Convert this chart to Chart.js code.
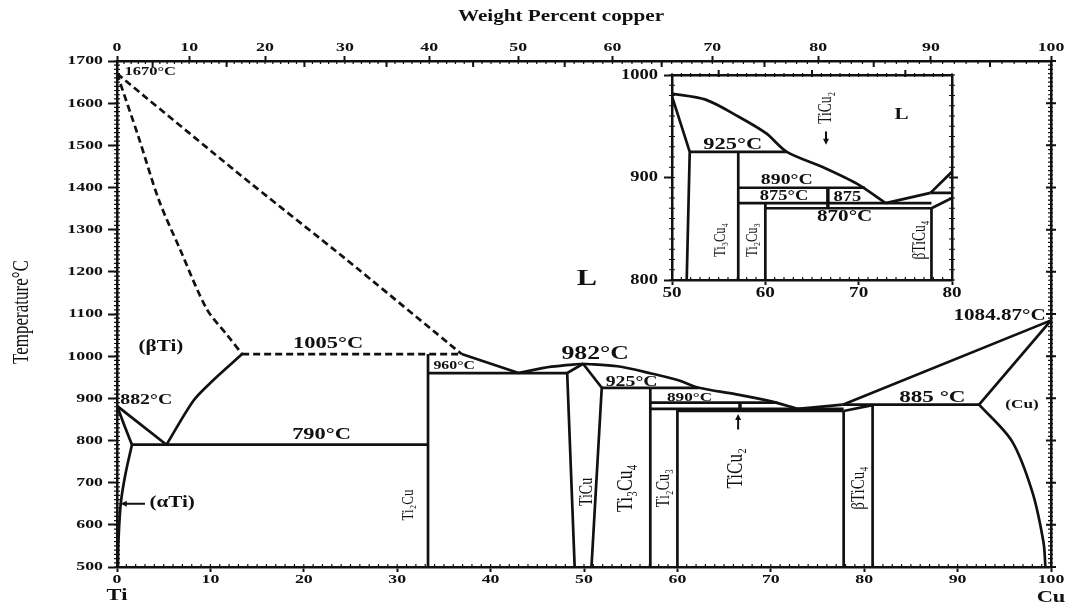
<!DOCTYPE html>
<html>
<head>
<meta charset="utf-8">
<title>Ti–Cu phase diagram</title>
<script src="https://cdn.jsdelivr.net/npm/chart.js@4.4.1/dist/chart.umd.min.js"></script>
<style>
  html, body { margin: 0; padding: 0; background: #fff; overflow: hidden; }
  #wrap { position: relative; width: 1074px; height: 606px; background: #fff; }
  #main { position: absolute; left: 0; top: 0; }
  #inset { position: absolute; left: 610px; top: 62px; }
</style>
</head>
<body>
<div id="wrap">
  <canvas id="main" width="1074" height="606"></canvas>
  <canvas id="inset" width="360" height="240"></canvas>
</div>
<script>
// ---------- Ti–Cu phase boundaries (x: atomic % Cu, y: temperature °C) ----------
const liquidusBeta      = [[0,1670],[13.3,1428],[24.4,1232],[36.9,1005]];
const solidusBeta       = [[0,1670],[2.3,1520],[4.5,1369],[6.7,1256],[9.6,1112],[11.8,1050],[13.4,1005]];
const peritectic1005    = [[13.4,1005],[36.9,1005]];
const betaSolvus        = [[13.4,1005],[10.3,943],[8.2,895],[5.3,790]];
const betaTransus       = [[0,882],[5.3,790]];
const alphaTransus      = [[0,882],[0.8,835],[1.6,790]];
const alphaSolvus       = [[1.6,790],[0.9,720],[0.4,650],[0.15,560],[0.1,500]];
const eutectoid790      = [[1.6,790],[33.3,790]];
const ti2CuPhase        = [[33.3,500],[33.3,1005]];
const liquidusTi2Cu     = [[36.9,1005],[43,960]];
const eutectic960       = [[33.3,960],[48.2,960]];
const liquidusTiCuLeft  = [[43,960],[46.5,975],[49.9,982]];
const tiCuLeft          = [[49.0,500],[48.2,960],[49.9,982]];
const tiCuRight         = [[49.9,982],[51.9,925],[50.8,500]];
const liquidusTiCuRight = [[49.9,982],[53.6,976],[57.2,959],[60.1,943],[62.3,925],[66.2,910],[69.8,894],[72.9,875]];
const eutectic925       = [[51.9,925],[62.3,925]];
const ti3Cu4Phase       = [[57.1,500],[57.1,925]];
const peritectic890     = [[57.1,890],[70.7,890]];
const eutectic875       = [[57.1,875],[77.8,875]];
const ti2Cu3Phase       = [[60,500],[60,875]];
const peritectoid870    = [[60,870],[77.8,870]];
const tiCu2Phase        = [[66.7,870],[66.7,890]];
const liquidusCuLow     = [[72.9,875],[77.7,885]];
const liquidusCu        = [[77.7,885],[100,1084.87]];
const betaTiCu4Left     = [[77.8,500],[77.8,870]];
const betaTiCu4Top      = [[77.8,870],[80.9,884]];
const eutectic885       = [[77.7,885],[92.3,885]];
const betaTiCu4Right    = [[80.9,500],[80.9,885]];
const cuSolidus         = [[92.3,885],[100,1084.87]];
const cuSolvus          = [[92.3,885],[95.8,799],[98,678],[99.2,558],[99.4,500]];

// ---------- tick labels ----------
const tempTicks        = [500,600,700,800,900,1000,1100,1200,1300,1400,1500,1600,1700];
const atomicTicks      = [0,10,20,30,40,50,60,70,80,90,100];
const weightTicks      = [0,10,20,30,40,50,60,70,80,90,100];
const insetTempTicks   = [800,900,1000];
const insetAtomicTicks = [50,60,70,80];

// ---------- which boundaries are drawn, and how ----------
const boundaries = [
  { pts: liquidusBeta, dash: true, curve: 0.2 },
  { pts: solidusBeta, dash: true, curve: 0.3 },
  { pts: peritectic1005, dash: true },
  { pts: betaSolvus, curve: 0.3 },
  { pts: betaTransus },
  { pts: alphaTransus, curve: 0.3 },
  { pts: alphaSolvus, curve: 0.3 },
  { pts: eutectoid790 },
  { pts: ti2CuPhase },
  { pts: liquidusTi2Cu },
  { pts: eutectic960 },
  { pts: liquidusTiCuLeft, curve: 0.3 },
  { pts: tiCuLeft },
  { pts: tiCuRight },
  { pts: liquidusTiCuRight, curve: 0.3 },
  { pts: eutectic925 },
  { pts: ti3Cu4Phase },
  { pts: peritectic890 },
  { pts: eutectic875 },
  { pts: ti2Cu3Phase },
  { pts: peritectoid870 },
  { pts: tiCu2Phase, width: 3.5 },
  { pts: liquidusCuLow },
  { pts: liquidusCu },
  { pts: betaTiCu4Left },
  { pts: betaTiCu4Top },
  { pts: eutectic885 },
  { pts: betaTiCu4Right },
  { pts: cuSolidus },
  { pts: cuSolvus, curve: 0.3 }
];

// weight % Cu -> atomic % Cu (top axis is in weight percent)
const M_TI = 47.867, M_CU = 63.546;
function wtToAt(w) {
  const cu = w / M_CU, ti = (100 - w) / M_TI;
  return 100 * cu / (cu + ti);
}
function steps(a, b, s) { const out = []; for (let v = a; v <= b + 1e-9; v += s) out.push(v); return out; }

const INK = '#111';
const SERIF = "'Liberation Serif','Times New Roman','DejaVu Serif',serif";
const SX = 1.32; // lettering in this figure is set wide

function makeDatasets(lineWidth) {
  return boundaries.map(b => ({
    data: b.pts.map(([x, y]) => ({ x, y })),
    showLine: true,
    borderColor: INK,
    borderWidth: b.width || lineWidth,
    borderDash: b.dash ? [7, 4] : [],
    tension: b.curve || 0,
    pointRadius: 0,
    fill: false
  }));
}

function drawText(ctx, text, px, py, o) {
  ctx.save();
  ctx.translate(px, py);
  ctx.scale(SX, 1);
  if (o.rot) ctx.rotate(o.rot * Math.PI / 180);
  ctx.font = (o.bold === false ? '' : 'bold ') + o.size + 'px ' + SERIF;
  ctx.textAlign = o.align || 'center';
  ctx.textBaseline = 'middle';
  ctx.fillStyle = INK;
  ctx.fillText(text, 0, 0);
  ctx.restore();
}

function tickRow(ctx, chart, id, values, before, after, width) {
  const s = chart.scales[id], ca = chart.chartArea;
  ctx.save();
  ctx.strokeStyle = INK;
  ctx.lineWidth = width || 1.2;
  ctx.beginPath();
  values.forEach(v => {
    const p = s.getPixelForValue(v);
    if (s.isHorizontal()) {
      const y0 = s.position === 'top' ? ca.top : ca.bottom;
      ctx.moveTo(p, y0 - before); ctx.lineTo(p, y0 + after);
    } else {
      const x0 = s.position === 'left' ? ca.left : ca.right;
      ctx.moveTo(x0 - before, p); ctx.lineTo(x0 + after, p);
    }
  });
  ctx.stroke();
  ctx.restore();
}

function arrow(ctx, x1, y1, x2, y2) {
  const a = Math.atan2(y2 - y1, x2 - x1), h = 6;
  ctx.save();
  ctx.strokeStyle = INK; ctx.fillStyle = INK; ctx.lineWidth = 2;
  ctx.beginPath(); ctx.moveTo(x1, y1); ctx.lineTo(x2 - Math.cos(a) * h * 0.8, y2 - Math.sin(a) * h * 0.8); ctx.stroke();
  ctx.beginPath();
  ctx.moveTo(x2, y2);
  ctx.lineTo(x2 - h * Math.cos(a) + 3 * Math.sin(a), y2 - h * Math.sin(a) - 3 * Math.cos(a));
  ctx.lineTo(x2 - h * Math.cos(a) - 3 * Math.sin(a), y2 - h * Math.sin(a) + 3 * Math.cos(a));
  ctx.closePath(); ctx.fill();
  ctx.restore();
}

function axis(pos, min, max, tickValues, tickLength, size) {
  return {
    type: 'linear', position: pos, min, max,
    afterBuildTicks: s => { s.ticks = tickValues.map(v => ({ value: v })); },
    ticks: { display: false },
    grid: { drawOnChartArea: false, drawTicks: true, tickLength, tickColor: INK, tickWidth: 2 },
    border: { display: true, color: INK, width: 2.5 },
    afterFit: s => { if (s.isHorizontal()) s.height = size; else s.width = size; }
  };
}

// ---------- main diagram labels (placed in data coordinates) ----------
const mainLabels = [
  { t: '1670°C', x: 0.8, y: 1674, size: 12.5, align: 'left' },
  { t: '(βTi)', x: 4.7, y: 1023, size: 16 },
  { t: '1005°C', x: 22.6, y: 1030, size: 17 },
  { t: '960°C', x: 36.1, y: 976, size: 12 },
  { t: '982°C', x: 51.2, y: 1006, size: 19.5 },
  { t: '925°C', x: 55.1, y: 938, size: 15 },
  { t: '890°C', x: 61.3, y: 902, size: 13 },
  { t: '882°C', x: 0.35, y: 895, size: 15, align: 'left' },
  { t: '790°C', x: 21.9, y: 815, size: 17 },
  { t: '(αTi)', x: 5.9, y: 651, size: 16 },
  { t: '885 °C', x: 87.3, y: 902, size: 17.5 },
  { t: '(Cu)', x: 96.9, y: 886, size: 13 },
  { t: '1084.87°C', x: 94.5, y: 1096, size: 16 },
  { t: 'L', x: 50.3, y: 1184, size: 23 },
  { t: 'Ti₂Cu', x: 31.2, y: 647, size: 13, rot: -90, bold: false },
  { t: 'TiCu', x: 50.3, y: 678, size: 14, rot: -90, bold: false },
  { t: 'Ti₃Cu₄', x: 54.5, y: 687, size: 17.5, rot: -90, bold: false },
  { t: 'Ti₂Cu₃', x: 58.6, y: 687, size: 14, rot: -90, bold: false },
  { t: 'TiCu₂', x: 66.3, y: 734, size: 17, rot: -90, bold: false },
  { t: 'βTiCu₄', x: 79.4, y: 687, size: 15, rot: -90, bold: false }
];

const insetLabels = [
  { t: '925°C', x: 56.5, y: 932, size: 17 },
  { t: '890°C', x: 62.3, y: 897.6, size: 15 },
  { t: '875°C', x: 62.0, y: 882, size: 14 },
  { t: '875', x: 68.8, y: 881, size: 14 },
  { t: '870°C', x: 68.5, y: 861.5, size: 16 },
  { t: 'L', x: 74.6, y: 961, size: 16 },
  { t: 'TiCu₂', x: 66.5, y: 968, size: 13.5, rot: -90, bold: false },
  { t: 'Ti₃Cu₄', x: 55.2, y: 839, size: 12.5, rot: -90, bold: false },
  { t: 'Ti₂Cu₃', x: 58.6, y: 839, size: 12.5, rot: -90, bold: false },
  { t: 'βTiCu₄', x: 76.6, y: 839, size: 13.5, rot: -90, bold: false }
];

const mainDecor = {
  id: 'mainDecor',
  afterDraw(chart) {
    const { ctx, scales: { x, x2, y } } = chart;
    // fine graduations
    tickRow(ctx, chart, 'y', steps(500, 1700, 10), 3, 3);
    tickRow(ctx, chart, 'y2', steps(500, 1700, 10), 3, 2);
    tickRow(ctx, chart, 'y2', tempTicks, 5, 5, 2);
    tickRow(ctx, chart, 'x', steps(0, 100, 1), 3, 1);
    tickRow(ctx, chart, 'x2', steps(0, 100, 1).map(wtToAt), 1, 3);
    tickRow(ctx, chart, 'x2', steps(5, 95, 10).map(wtToAt), 1, 6, 2);
    // tick labels
    tempTicks.forEach(t => drawText(ctx, String(t), 103, y.getPixelForValue(t), { size: 13.5, align: 'right' }));
    atomicTicks.forEach(v => drawText(ctx, String(v), x.getPixelForValue(v), 580, { size: 13.5 }));
    weightTicks.forEach(w => drawText(ctx, String(w), x2.getPixelForValue(wtToAt(w)), 47.5, { size: 13.5 }));
    // axis titles and end members
    drawText(ctx, 'Weight Percent copper', 561, 17, { size: 16 });
    drawText(ctx, 'Temperature°C', 22, 312, { size: 17, rot: -90, bold: false });
    drawText(ctx, 'Ti', x.getPixelForValue(0), 596, { size: 17 });
    drawText(ctx, 'Cu', x.getPixelForValue(100), 598, { size: 17 });
    // phase labels
    mainLabels.forEach(l => drawText(ctx, l.t, x.getPixelForValue(l.x), y.getPixelForValue(l.y), l));
    // pointers
    arrow(ctx, x.getPixelForValue(3.0), y.getPixelForValue(650), x.getPixelForValue(0.4), y.getPixelForValue(650));
    arrow(ctx, x.getPixelForValue(66.5), y.getPixelForValue(826), x.getPixelForValue(66.5), y.getPixelForValue(863));
  }
};

const insetDecor = {
  id: 'insetDecor',
  afterDraw(chart) {
    const { ctx, scales: { x, y } } = chart;
    tickRow(ctx, chart, 'y', steps(800, 1000, 10), 3, 3);
    tickRow(ctx, chart, 'y2', steps(800, 1000, 10), 3, 3);
    tickRow(ctx, chart, 'y2', [900], 3, 6, 2);
    tickRow(ctx, chart, 'x', steps(50, 80, 1), 3, 1);
    tickRow(ctx, chart, 'x2', steps(50, 80, 1), 2, 2);
    tickRow(ctx, chart, 'x2', steps(55, 75, 10), 5, 2, 2);
    insetTempTicks.forEach(t => drawText(ctx, String(t), 48, y.getPixelForValue(t), { size: 14, align: 'right' }));
    insetAtomicTicks.forEach(v => drawText(ctx, String(v), x.getPixelForValue(v), 231, { size: 14.5 }));
    insetLabels.forEach(l => drawText(ctx, l.t, x.getPixelForValue(l.x), y.getPixelForValue(l.y), l));
    arrow(ctx, x.getPixelForValue(66.5), y.getPixelForValue(945), x.getPixelForValue(66.5), y.getPixelForValue(932));
  }
};

const common = {
  animation: false,
  responsive: false,
  events: [],
  layout: { padding: 0 },
  plugins: { legend: { display: false }, tooltip: { enabled: false } }
};

new Chart(document.getElementById('main'), {
  type: 'scatter',
  data: { datasets: makeDatasets(2.7) },
  options: Object.assign({}, common, {
    scales: {
      x:  axis('bottom', 0, 100, atomicTicks, 5, 39),
      x2: axis('top', 0, 100, weightTicks.map(wtToAt), 5, 61),
      y:  axis('left', 500, 1700, tempTicks, 9, 117),
      y2: axis('right', 500, 1700, tempTicks, 0, 23)
    }
  }),
  plugins: [mainDecor]
});

new Chart(document.getElementById('inset'), {
  type: 'scatter',
  data: { datasets: makeDatasets(2.7) },
  options: Object.assign({}, common, {
    scales: {
      x:  axis('bottom', 50, 80, insetAtomicTicks, 5, 22),
      x2: axis('top', 50, 80, [], 0, 13),
      y:  axis('left', 800, 1000, insetTempTicks, 8, 62),
      y2: axis('right', 800, 1000, [], 0, 18)
    }
  }),
  plugins: [insetDecor]
});
</script>
</body>
</html>
